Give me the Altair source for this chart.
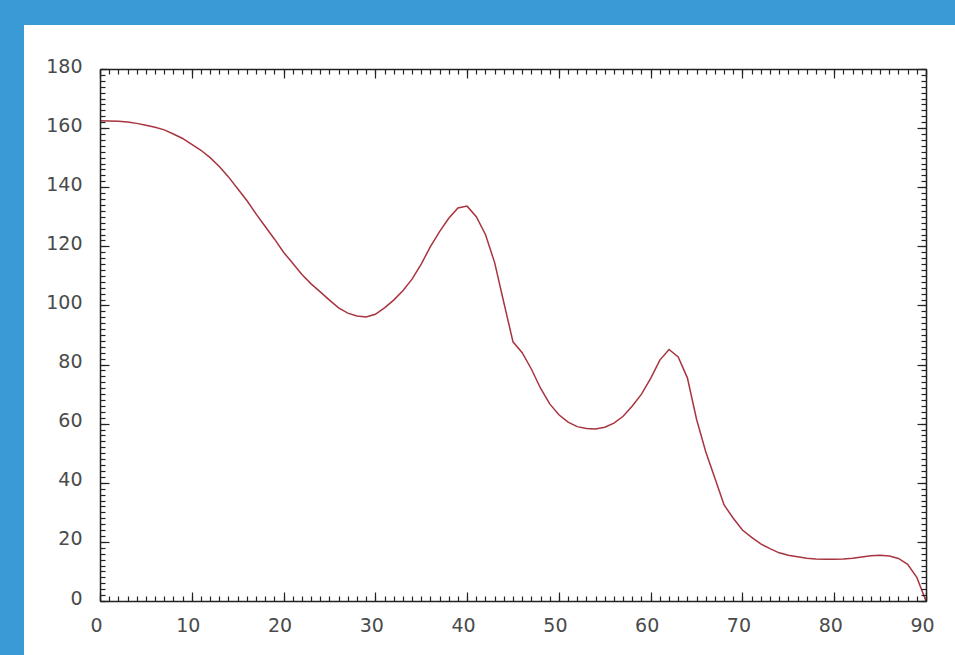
import altair as alt
import pandas as pd

# Curve samples
xs = list(range(0, 91))
ys = [
    162.5, 162.4, 162.3, 162.1, 161.6, 161.0, 160.3, 159.4, 158.0, 156.5,
    154.5, 152.5, 150.0, 147.0, 143.5, 139.5, 135.5, 131.0, 126.7, 122.5,
    118.0, 114.3, 110.5, 107.3, 104.6, 101.8, 99.2, 97.4, 96.4, 96.1,
    97.0, 99.2, 101.8, 105.0, 108.9, 114.0, 119.9, 125.0, 129.5, 133.0,
    133.6, 130.0, 124.0, 114.5, 101.0, 87.7, 84.0, 78.5, 72.0, 66.7,
    63.0, 60.5, 59.0, 58.4, 58.2, 58.8, 60.2, 62.5, 66.0, 70.0,
    75.3, 81.5, 85.1, 82.6, 75.5, 61.5, 50.5, 41.5, 32.5, 28.0,
    24.0, 21.5, 19.3, 17.7, 16.3, 15.5, 15.0, 14.5, 14.2, 14.1,
    14.1, 14.2, 14.5, 14.9, 15.3, 15.5, 15.2, 14.4, 12.4, 8.0,
    0.0,
]

x_major = list(range(0, 91, 10))
x_minor = list(range(0, 91, 1))
y_major = list(range(0, 181, 20))
y_minor = list(range(0, 181, 2))

W, H = 826, 532
INK = "#222222"

df = pd.DataFrame({"x": xs, "y": ys})
xscale = alt.Scale(domain=[0, 90], nice=False, zero=False)
yscale = alt.Scale(domain=[0, 180], nice=False, zero=False)

label_style = dict(labelFont="DejaVu Sans", labelFontSize=19, labelColor="#4a4a4a",
                   labelFlush=False, labelOverlap=False)


def tick_axis(orient, offset, values, size, domain=False):
    return alt.Axis(orient=orient, offset=offset, values=values, tickSize=size,
                    tickColor=INK, tickWidth=1.2, labels=False, title=None,
                    domain=domain, domainColor=INK, domainWidth=1.5,
                    grid=False, zindex=1)


def carrier(xaxis, yaxis):
    return alt.Chart(df).mark_line(strokeOpacity=0).encode(
        x=alt.X("x:Q", scale=xscale, axis=xaxis),
        y=alt.Y("y:Q", scale=yscale, axis=yaxis),
    )


# white panel behind the plot
panel = alt.Chart(df).mark_rect(fill="white").encode(
    x=alt.value(-76), x2=alt.value(W + 29), y=alt.value(-44), y2=alt.value(H + 54)
)

curve = alt.Chart(df).mark_line(color="#a8343f", strokeWidth=1.5).encode(
    x=alt.X("x:Q", scale=xscale,
            axis=alt.Axis(orient="bottom", values=x_major, ticks=False, labelPadding=15,
                          labelOffset=-4, domain=True, domainColor=INK, domainWidth=1.5,
                          grid=False, title=None, zindex=1, **label_style)),
    y=alt.Y("y:Q", scale=yscale,
            axis=alt.Axis(orient="left", values=y_major, ticks=False, labelPadding=18,
                          labelOffset=-3, domain=True, domainColor=INK, domainWidth=1.5,
                          grid=False, title=None, zindex=1, **label_style)),
)

layers = [
    panel,
    curve,
    # inward ticks on bottom and left edges
    carrier(tick_axis("top", -H, x_minor, 5), tick_axis("right", -W, y_minor, 5)),
    carrier(tick_axis("top", -H, x_major, 9), tick_axis("right", -W, y_major, 9)),
    # inward ticks on top and right edges, with their border lines
    carrier(tick_axis("bottom", -H, x_minor, 5, True), tick_axis("left", -W, y_minor, 5, True)),
    carrier(tick_axis("bottom", -H, x_major, 9), tick_axis("left", -W, y_major, 9)),
]

chart = (
    alt.layer(*layers)
    .resolve_axis(x="independent", y="independent")
    .properties(
        width=W,
        height=H,
        background="#399ad5",
        padding={"left": 100, "top": 69, "right": 29, "bottom": 54},
        autosize=alt.AutoSizeParams(type="none"),
    )
    .configure_view(stroke=None)
)

chart.save("out.html", embed_options={"renderer": "svg", "actions": False})
